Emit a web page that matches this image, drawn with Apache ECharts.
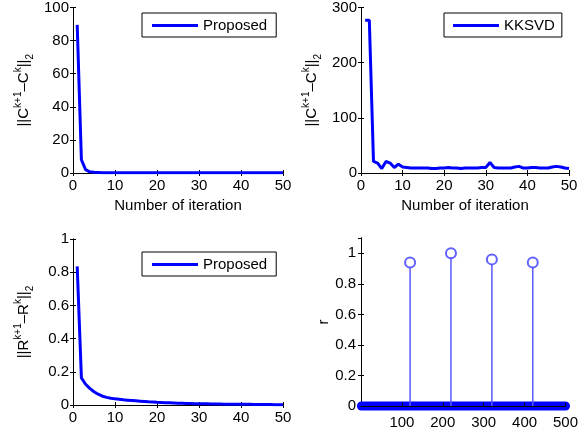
<!DOCTYPE html>
<html>
<head>
<meta charset="utf-8">
<script src="https://cdn.jsdelivr.net/npm/echarts@6/dist/echarts.min.js"></script>
<style>
  html, body { margin: 0; padding: 0; background: #fff; }
  #chart { width: 581px; height: 434px; }
</style>
</head>
<body>
<div id="chart"></div>
<script>
// iterations shared by the three convergence plots
const iterations = [1, 2, 3, 4, 5, 6, 7, 8, 9, 10, 11, 12, 13, 14, 15, 16, 17, 18, 19, 20,
  21, 22, 23, 24, 25, 26, 27, 28, 29, 30, 31, 32, 33, 34, 35, 36, 37, 38, 39, 40,
  41, 42, 43, 44, 45, 46, 47, 48, 49, 50]

// ||C^{k+1}-C^k||_2, proposed
const proposedC = [89.5, 8, 2, 0.7, 0.4, 0.3, 0.2, 0.15, 0.1, 0.1,
  0.1, 0.1, 0.1, 0.1, 0.1, 0.1, 0.1, 0.1, 0.1, 0.1,
  0.1, 0.1, 0.1, 0.1, 0.1, 0.1, 0.1, 0.1, 0.1, 0.1,
  0.1, 0.1, 0.1, 0.1, 0.1, 0.1, 0.1, 0.1, 0.1, 0.1,
  0.1, 0.1, 0.1, 0.1, 0.1, 0.1, 0.1, 0.1, 0.1, 0.1]

// ||C^{k+1}-C^k||_2, KKSVD
const kksvdC = [277, 277, 21, 18, 8, 21, 18, 10, 16, 11,
  10, 9, 9, 9, 9, 9, 8, 8, 9, 9,
  10, 9, 9, 8, 9, 9, 9, 9, 10, 10,
  19, 10, 9, 9, 9, 9, 11, 12, 9, 9,
  10, 10, 9, 9, 9, 11, 12, 11, 9, 8]

// ||R^{k+1}-R^k||_2, proposed
const proposedR = [0.835, 0.163, 0.125, 0.1, 0.08, 0.065, 0.053, 0.046, 0.041, 0.037,
  0.034, 0.031, 0.029, 0.027, 0.025, 0.023, 0.021, 0.019, 0.018, 0.016,
  0.015, 0.014, 0.013, 0.012, 0.011, 0.010, 0.009, 0.009, 0.008, 0.008,
  0.007, 0.007, 0.006, 0.006, 0.006, 0.005, 0.005, 0.005, 0.004, 0.004,
  0.004, 0.004, 0.003, 0.003, 0.003, 0.003, 0.003, 0.002, 0.002, 0.002]

// r: non-zero entries (index, value); every other sample of 1..500 is 0
const rIndex = [120, 220, 320, 420]
const rValue = [0.94, 1.0, 0.96, 0.94]
const rZeroRange = [1, 500]

const font = 'Liberation Sans, Arial, Helvetica, sans-serif'
const blue = '#0000ff'

const grids = [
  { left: 73, top: 7, width: 210, height: 166 },
  { left: 361, top: 7, width: 208, height: 166 },
  { left: 73, top: 239, width: 210, height: 166 },
  { left: 361, top: 238, width: 208, height: 168 }
]

const tick = { inside: true, length: 3, lineStyle: { color: '#000' } }
const line = { lineStyle: { color: '#000', width: 1 } }
const label = { color: '#000', fontFamily: font, fontSize: 15 }

// axis title rich text
const rich = {
  a: { fontFamily: font, fontSize: 15, color: '#000', lineHeight: 22, verticalAlign: 'middle' },
  s: { fontFamily: font, fontSize: 10, color: '#000', lineHeight: 10, verticalAlign: 'top' },
  b: { fontFamily: font, fontSize: 10, color: '#000', lineHeight: 10, verticalAlign: 'bottom' }
}

function xPair(grid, min, max, interval, extra) {
  const bottom = Object.assign({
    type: 'value', gridIndex: grid, position: 'bottom', min, max, interval,
    axisLine: line, axisTick: tick, splitLine: { show: false },
    axisLabel: Object.assign({ margin: 5 }, label)
  }, extra || {})
  const top = {
    type: 'value', gridIndex: grid, position: 'top', min, max, interval,
    axisLine: line, axisTick: tick, splitLine: { show: false },
    axisLabel: { show: false }
  }
  return [bottom, top]
}

function yPair(grid, min, max, interval, extra) {
  const left = Object.assign({
    type: 'value', gridIndex: grid, position: 'left', min, max, interval,
    axisLine: line, axisTick: tick, splitLine: { show: false },
    axisLabel: Object.assign({ margin: 4 }, label)
  }, extra || {})
  const right = {
    type: 'value', gridIndex: grid, position: 'right', min, max, interval,
    axisLine: line, axisTick: tick, splitLine: { show: false },
    axisLabel: { show: false }
  }
  return [left, right]
}

const iterName = {
  name: 'Number of iteration', nameLocation: 'middle', nameGap: 25,
  nameTextStyle: { fontFamily: font, fontSize: 15, color: '#000' }
}
function yName(txt) {
  return {
    name: txt, nameLocation: 'middle', nameRotate: 90, nameGap: 38,
    nameTextStyle: { rich }
  }
}

const cName = '{a|||C}{s|k+1}{a|\u2013C}{s|k}{a|||}{b|2}'
const rName = '{a|||R}{s|k+1}{a|\u2013R}{s|k}{a|||}{b|2}'

const xAxis = [
  ...xPair(0, 0, 50, 10, iterName),
  ...xPair(1, 0, 50, 10, iterName),
  ...xPair(2, 0, 50, 10),
  ...xPair(3, 0, 500, 100, { z: 5, axisLabel: Object.assign({ margin: 9, showMinLabel: false }, label) })
]
const yAxis = [
  ...yPair(0, 0, 100, 20, yName(cName)),
  ...yPair(1, 0, 300, 100, yName(cName)),
  ...yPair(2, 0, 1, 0.2, yName(rName)),
  ...yPair(3, 0, 1.1, 0.2, {
    name: 'r', nameLocation: 'middle', nameRotate: 90, nameGap: 30,
    nameTextStyle: { fontFamily: font, fontSize: 15, color: '#000' },
    axisLabel: Object.assign({ margin: 5, showMaxLabel: false }, label)
  })
]

const pairs = (xs, ys) => xs.map((x, i) => [x, ys[i]])

const legendBase = {
  orient: 'horizontal', icon: 'rect', itemWidth: 46, itemHeight: 3, itemGap: 5,
  borderColor: '#000', borderWidth: 1, backgroundColor: '#fff',
  textStyle: { fontFamily: font, fontSize: 15, color: '#000', lineHeight: 17 }
}

const option = {
  animation: false,
  backgroundColor: '#fff',
  grid: grids,
  xAxis,
  yAxis,
  legend: [
    Object.assign({ left: 142, top: 13, padding: [4, 9, 3, 10], data: ['Proposed'] }, legendBase),
    Object.assign({ left: 444, top: 13, padding: [4, 7, 3, 9], data: ['KKSVD'] }, legendBase),
    Object.assign({ left: 142, top: 252, padding: [4, 9, 3, 10], data: ['Proposed'] }, legendBase)
  ],
  series: [
    {
      name: 'Proposed', type: 'line', xAxisIndex: 0, yAxisIndex: 0,
      data: pairs(iterations, proposedC), symbol: 'none',
      lineStyle: { color: blue, width: 3 }, itemStyle: { color: blue }
    },
    {
      name: 'KKSVD', type: 'line', xAxisIndex: 2, yAxisIndex: 2,
      data: pairs(iterations, kksvdC), symbol: 'none',
      lineStyle: { color: blue, width: 3 }, itemStyle: { color: blue }
    },
    {
      name: 'Proposed', type: 'line', xAxisIndex: 4, yAxisIndex: 4,
      data: pairs(iterations, proposedR), symbol: 'none',
      lineStyle: { color: blue, width: 3 }, itemStyle: { color: blue }
    },
    // zero samples: overlapping circles form a solid band
    {
      name: 'zeros', type: 'line', xAxisIndex: 6, yAxisIndex: 6,
      data: rZeroRange.map(x => [x, 0]), symbol: 'none', clip: false, z: 1,
      lineStyle: { color: blue, width: 9, cap: 'round' }
    },
    // stems
    {
      name: 'stems', type: 'custom', xAxisIndex: 6, yAxisIndex: 6,
      data: pairs(rIndex, rValue),
      renderItem(params, api) {
        const p0 = api.coord([api.value(0), 0])
        const p1 = api.coord([api.value(0), api.value(1)])
        return {
          type: 'line',
          shape: { x1: p0[0], y1: p0[1], x2: p1[0], y2: p1[1] + 5 },
          style: { stroke: '#5a5aff', lineWidth: 1.5 }
        }
      }
    },
    {
      name: 'heads', type: 'scatter', xAxisIndex: 6, yAxisIndex: 6,
      data: pairs(rIndex, rValue), symbol: 'emptyCircle', symbolSize: 10, z: 3,
      itemStyle: { color: '#3a3aff', borderWidth: 1.2 }
    }
  ]
}

const chart = echarts.init(document.getElementById('chart'))
chart.setOption(option)
</script>
</body>
</html>
